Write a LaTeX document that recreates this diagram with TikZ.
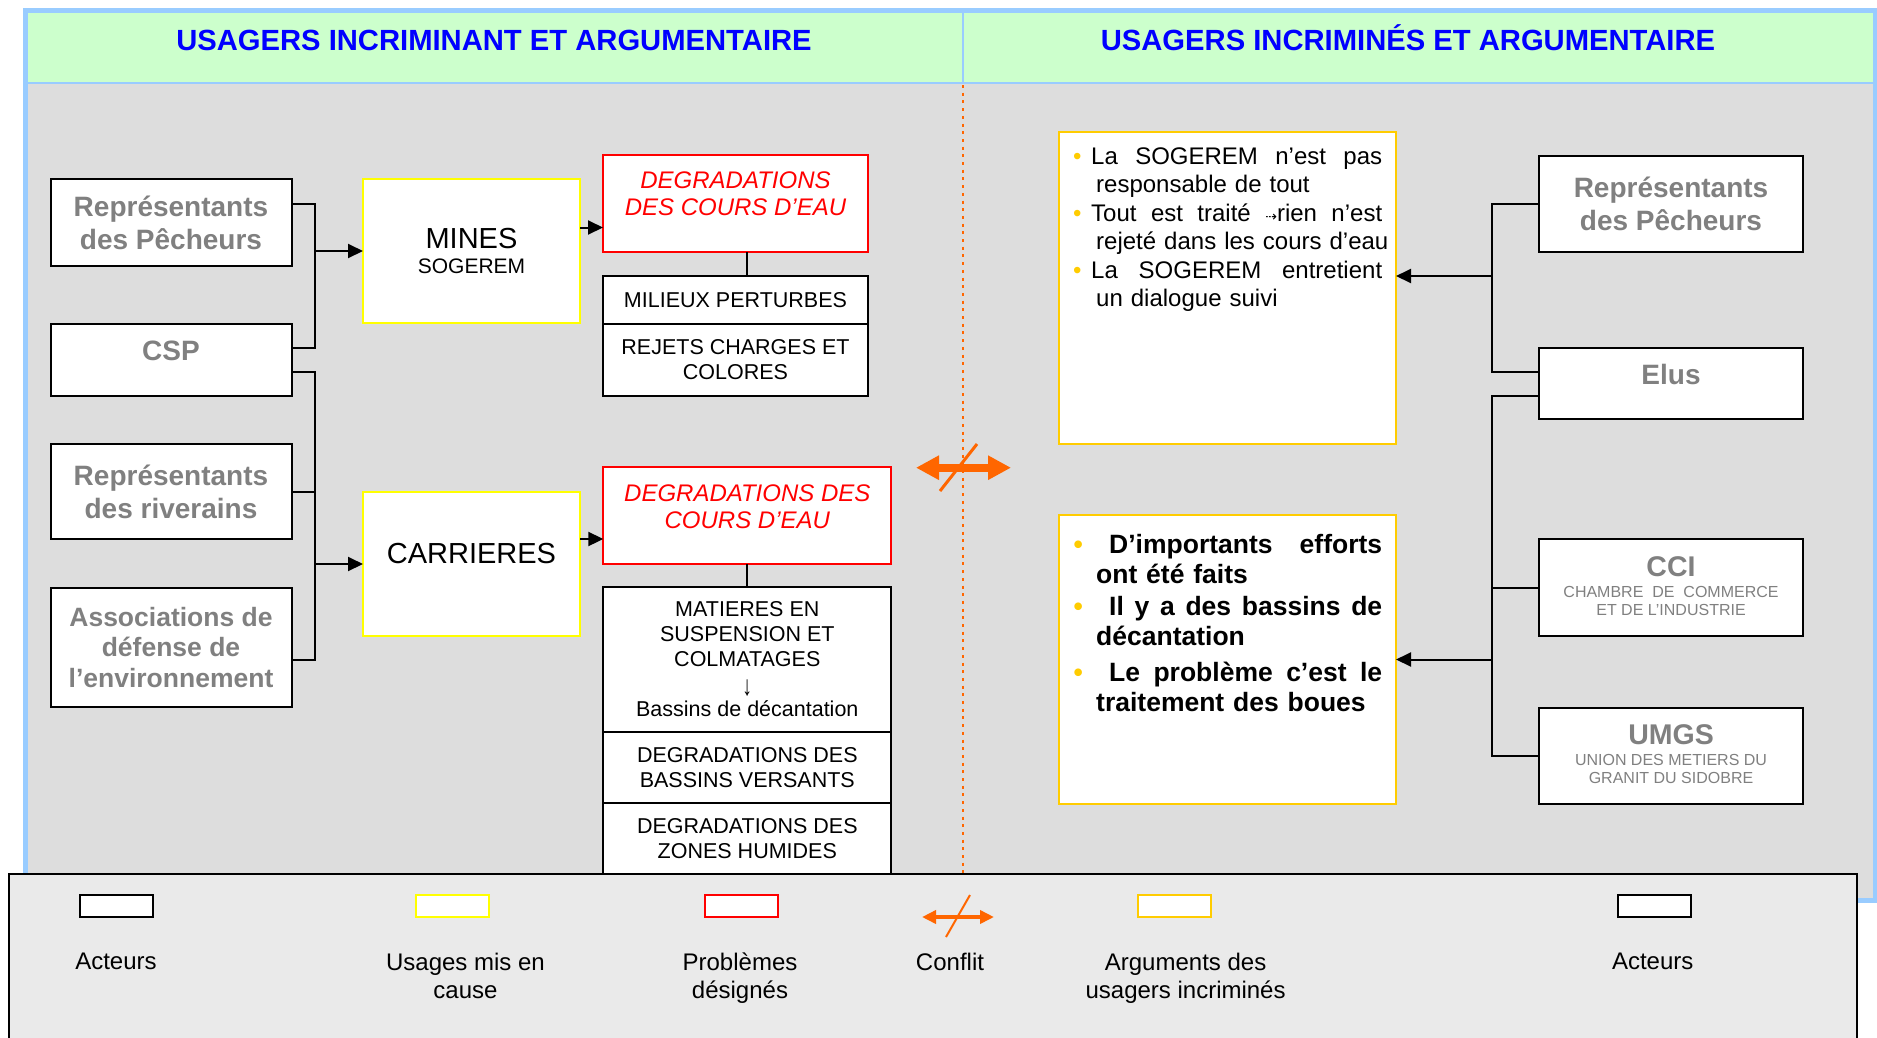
\documentclass[tikz,border=0pt]{standalone}
\usepackage{fontspec}
\setmainfont{Liberation Sans}
\newfontfamily\flechefont{DejaVu Sans}
\usepackage{xcolor}
\usepackage{graphicx}
\usepackage{tikz}
\usetikzlibrary{arrows.meta,positioning}
\setlength{\parindent}{0pt}
\definecolor{cadre}{HTML}{99CCFF}
\definecolor{entete}{HTML}{CCFFCC}
\definecolor{fond}{HTML}{DDDDDD}
\definecolor{fondleg}{HTML}{EAEAEA}
\definecolor{titre}{HTML}{0000FF}
\definecolor{grisacteur}{HTML}{808080}
\definecolor{usage}{HTML}{FFFF00}
\definecolor{probleme}{HTML}{FF0000}
\definecolor{argument}{HTML}{FFCC00}
\definecolor{conflit}{HTML}{FF6600}
\tikzset{
  acteur/.style  ={draw=black,line width=2pt,fill=white,inner sep=0pt,outer sep=0pt,align=center,
                   text=grisacteur,font=\bfseries\fontsize{28}{33}\selectfont},
  usagebox/.style={draw=usage,line width=2pt,fill=white,inner sep=0pt,outer sep=0pt,align=center,
                   minimum width=217pt,minimum height=144pt},
  pbox/.style    ={draw=probleme,line width=2pt,fill=white,inner sep=0pt,outer sep=0pt,align=center,
                   text=probleme,font=\itshape\fontsize{24}{27}\selectfont,minimum height=97pt},
  detail/.style  ={draw=black,line width=2pt,fill=white,inner sep=0pt,outer sep=0pt,align=center,
                   font=\fontsize{21.5}{25}\selectfont},
  argbox/.style  ={draw=argument,line width=2pt,fill=white,outer sep=0pt,minimum width=337pt},
  argtexte/.style={anchor=north west,inner sep=0pt,text width=320pt,align=left},
  lien/.style    ={line width=2pt,draw=black},
  fleche/.style  ={-{Triangle[length=15pt,width=14pt]},line width=2pt,draw=black},
  choc/.style    ={{Triangle[length=23pt,width=23pt]}-{Triangle[length=23pt,width=23pt]},
                   line width=8pt,draw=conflit},
  legchoc/.style ={{Triangle[length=14pt,width=13pt]}-{Triangle[length=14pt,width=13pt]},
                   line width=4pt,draw=conflit},
  legicone/.style={line width=2pt,fill=white,minimum width=73pt,minimum height=22pt,inner sep=0pt},
  legtexte/.style={anchor=north,align=center,inner sep=0pt,font=\fontsize{24}{28}\selectfont}
}
\newcommand{\puce}{\textcolor{argument}{\textbullet}}

\begin{document}
\begin{tikzpicture}[x=1pt,y=-1pt]
  \useasboundingbox (0,0) rectangle (1877,1037);
  % cadre et bandeaux
  \fill[fond] (25,10) rectangle (1875,900);
  \fill[entete] (25,10) rectangle (1875,83);
  \draw[cadre,line width=2pt] (25,83) -- (1875,83);
  \draw[cadre,line width=2pt] (963,10) -- (963,83);
  \draw[cadre,line width=5pt] (25,10) rectangle (1875,900);
  \node[anchor=base,text=titre,font=\bfseries\fontsize{29.2}{32}\selectfont] (titreG) at (494,50)
    {USAGERS INCRIMINANT ET ARGUMENTAIRE};
  \node[anchor=base,text=titre,font=\bfseries\fontsize{29.2}{32}\selectfont] (titreD) at (1408,50)
    {USAGERS INCRIMINÉS ET ARGUMENTAIRE};
  \draw[conflit,line width=2.5pt,dash pattern=on 3pt off 4.7pt] (963,85) -- (963,874);

  % acteurs incriminants
  \node[acteur,minimum width=241pt,minimum height=87pt] (pechG) at (171,222.5) {Représentants\\des Pêcheurs};
  \node[acteur,minimum width=241pt,minimum height=72pt,text depth=18pt,below=58pt of pechG] (csp) {CSP};
  \node[acteur,minimum width=241pt,minimum height=95pt,below=48pt of csp] (riv) {Représentants\\des riverains};
  \node[acteur,minimum width=241pt,minimum height=119pt,below=49pt of riv,
        font=\bfseries\fontsize{26.5}{30.5}\selectfont] (assoc) {Associations de\\défense de\\l’environnement};

  % usages mis en cause
  \node[usagebox,font=\fontsize{21}{25}\selectfont] (mines) at (471.5,251)
    {{\fontsize{29}{32}\selectfont MINES}\\SOGEREM};
  \node[usagebox,below=169pt of mines,text depth=22pt,font=\fontsize{29}{32}\selectfont] (carr) {CARRIERES};

  % problemes designes
  \node[pbox,minimum width=265pt,text depth=20pt] (deg1) at (735.5,203.5) {DEGRADATIONS\\DES COURS D’EAU};
  \node[detail,minimum width=265pt,minimum height=48pt,below=24pt of deg1] (milieux) {MILIEUX PERTURBES};
  \node[detail,minimum width=265pt,minimum height=72pt,below=0pt of milieux] (rejets) {REJETS CHARGES ET\\COLORES};
  \node[pbox,minimum width=288pt,text depth=18pt] (deg2) at (747.3,515.5) {DEGRADATIONS DES\\COURS D’EAU};
  \node[detail,minimum width=288pt,minimum height=145pt,below=23pt of deg2] (matieres)
    {MATIERES EN\\SUSPENSION ET\\COLMATAGES\\[4pt]\scalebox{0.9}[1.3]{↓}\\[-4pt]Bassins de décantation};
  \node[detail,minimum width=288pt,minimum height=71pt,below=0pt of matieres] (versants) {DEGRADATIONS DES\\BASSINS VERSANTS};
  \node[detail,minimum width=288pt,minimum height=71pt,below=0pt of versants] (humides) {DEGRADATIONS DES\\ZONES HUMIDES};

  % liaisons gauche
  \coordinate (busG) at (315,0);
  \draw[lien] ([yshift=18.5pt]pechG.east) -- ++(23.5,0) |- ([yshift=12.5pt]csp.east);
  \draw[fleche] (mines.west -| busG) -- (mines.west);
  \draw[lien] ([yshift=-12pt]csp.east) -- ++(23.5,0) |- ([yshift=-12.5pt]assoc.east);
  \draw[lien] (riv.east) -- (riv.east -| busG);
  \draw[fleche] (carr.west -| busG) -- (carr.west);
  \draw[fleche] ([yshift=23.5pt]mines.east) -- ([yshift=23.5pt]mines.east -| deg1.west);
  \draw[fleche] ([yshift=25pt]carr.east) -- ([yshift=25pt]carr.east -| deg2.west);
  \draw[lien] ([xshift=11.5pt]deg1.south) -- ([xshift=11.5pt]milieux.north);
  \draw[lien] (deg2.south) -- (matieres.north);

  % conflit
  \coordinate (confG) at (916,467.7);
  \coordinate (confD) at (1011,467.7);
  \draw[choc] (confG) -- (confD);
  \draw[conflit,line width=3pt] (940,491) -- (977,444);

  % arguments des usagers incrimines
  \node[argbox,minimum height=312pt] (arg1) at (1227.5,288) {};
  \node[argbox,minimum height=289pt,below=71pt of arg1] (arg2) {};
  \node[argtexte,font=\fontsize{24}{28.5}\selectfont] (txt1) at ([xshift=13.8pt,yshift=-15.5pt]arg1.north west)
    {\makebox[18.2pt][l]{\puce}\makebox[291pt][l]{La\hfill SOGEREM\hfill n’est\hfill pas}\\
     \hspace*{23.2pt}responsable de tout\\
     \makebox[18.2pt][l]{\puce}\makebox[291pt][l]{Tout\hfill est\hfill traité\hfill {\flechefont\fontsize{14}{14}\selectfont ⇢}rien\hfill n’est}\\
     \hspace*{23.2pt}rejeté dans les cours d’eau\\
     \makebox[18.2pt][l]{\puce}\makebox[291pt][l]{La\hfill SOGEREM\hfill entretient}\\
     \hspace*{23.2pt}un dialogue suivi};
  \node[argtexte,font=\bfseries\fontsize{26.5}{30}\selectfont] (txt2) at ([xshift=14.4pt,yshift=-18.7pt]arg2.north west)
    {\makebox[35.6pt][l]{\puce}\makebox[273pt][l]{D’importants\hfill efforts}\\
     \hspace*{22.6pt}ont été faits\\[2pt]
     \makebox[35.6pt][l]{\puce}\makebox[273pt][l]{Il\hfill y\hfill a\hfill des\hfill bassins\hfill de}\\
     \hspace*{22.6pt}décantation\\[6pt]
     \makebox[35.6pt][l]{\puce}\makebox[273pt][l]{Le\hfill problème\hfill c’est\hfill le}\\
     \hspace*{22.6pt}traitement des boues};

  % acteurs incrimines
  \node[acteur,minimum width=264pt,minimum height=96pt] (pechD) at (1671,204) {Représentants\\des Pêcheurs};
  \node[acteur,minimum width=264pt,minimum height=71pt,text depth=19pt,below=96pt of pechD] (elus) {Elus};
  \node[acteur,minimum width=264pt,minimum height=97pt,text depth=3pt,below=120pt of elus,
        font=\fontsize{16}{18.3}\selectfont] (cci)
    {{\bfseries\fontsize{28.5}{30}\selectfont CCI}\\[3pt]CHAMBRE\ \ DE\ \ COMMERCE\\ET DE L’INDUSTRIE};
  \node[acteur,minimum width=264pt,minimum height=96pt,text depth=4pt,below=72pt of cci,
        font=\fontsize{16}{18.3}\selectfont] (umgs)
    {{\bfseries\fontsize{28.5}{30}\selectfont UMGS}\\[3pt]UNION DES METIERS DU\\GRANIT DU SIDOBRE};

  % liaisons droite
  \coordinate (busD) at (1492,0);
  \draw[lien] (pechD.west) -| ([yshift=11.5pt]elus.west -| busD) -- ([yshift=11.5pt]elus.west);
  \draw[fleche] ([yshift=12pt]arg1.east -| busD) -- ([yshift=12pt]arg1.east);
  \draw[lien] ([yshift=-12.5pt]elus.west) -| (umgs.west -| busD) -- (umgs.west);
  \draw[lien] (cci.west) -- (cci.west -| busD);
  \draw[fleche] (arg2.east -| busD) -- (arg2.east);

  % legende
  \draw[line width=2pt,fill=fondleg] (9,874) rectangle (1857,1050);
  \node[legicone,draw=black] (legA) at (116.5,906) {};
  \node[legicone,draw=usage] (legU) at (452.5,906) {};
  \node[legicone,draw=probleme] (legP) at (741,906) {};
  \node[legicone,draw=argument] (legR) at (1174,906) {};
  \node[legicone,draw=black] (legB) at (1654,906) {};
  \coordinate (legCG) at (922,917);
  \coordinate (legCD) at (994,917);
  \draw[legchoc] (legCG) -- (legCD);
  \draw[conflit,line width=2pt] (946,937) -- (970,895);
  \node[legtexte] (legAt) at (116,952.5) {Acteurs};
  \node[legtexte] (legUt) at (465.5,952.5) {Usages mis en\\cause};
  \node[legtexte] (legPt) at (740,952.5) {Problèmes\\désignés};
  \node[legtexte] (legCt) at (950,952.5) {Conflit};
  \node[legtexte] (legRt) at (1185.6,952.5) {Arguments des\\usagers incriminés};
  \node[legtexte] (legBt) at (1652.7,952.5) {Acteurs};
\end{tikzpicture}
\end{document}
